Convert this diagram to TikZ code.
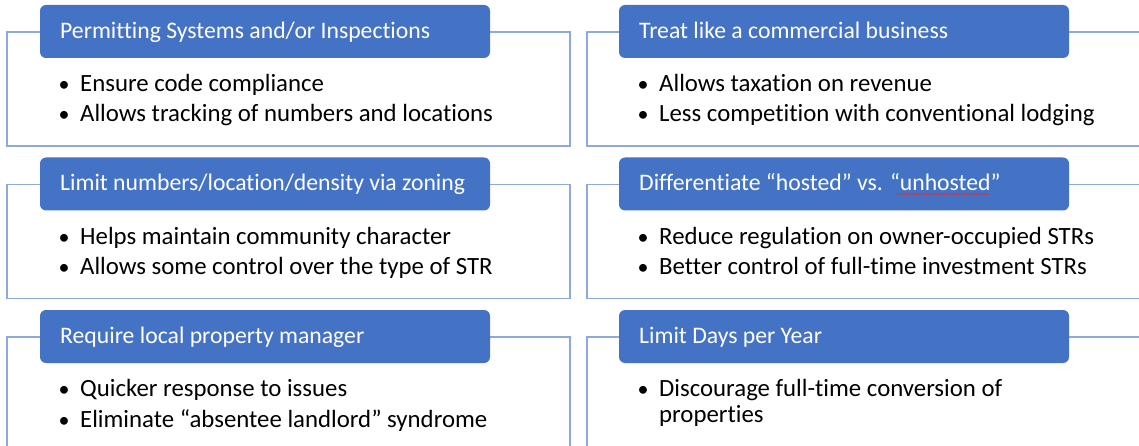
\documentclass[tikz,border=0pt]{standalone}
\usepackage{fontspec}
\setmainfont{Carlito}[Ligatures={NoCommon}]
\usetikzlibrary{decorations.pathmorphing}
\definecolor{hdrblue}{HTML}{4472C4}
\definecolor{edgeblue}{HTML}{8EA9DB}
\definecolor{spellred}{HTML}{E0303A}

\begin{document}
\begin{tikzpicture}[x=1pt,y=-1pt,
  panel/.style={draw=edgeblue, line width=1.2pt, minimum width=563pt,
    minimum height=114pt, anchor=north west, inner sep=0pt, outer sep=0pt},
  header/.style={fill=hdrblue, rounded corners=6pt, minimum width=450pt,
    minimum height=53pt, anchor=north west, inner sep=0pt, outer sep=0pt},
  htext/.style={text=white, font=\fontsize{23.7}{26}\selectfont,
    anchor=base west, inner sep=0pt},
  btext/.style={font=\fontsize{24.8}{26}\selectfont, anchor=base west,
    inner sep=0pt, align=left},
  dot/.style={font=\fontsize{22}{26}\selectfont, anchor=base, inner sep=0pt},
]
\clip (0,0) rectangle (1139,446);

% outlined panels
\node[panel] (p1) at (7,32) {};
\node[panel] (p2) at (587,32) {};
\node[panel] (p3) at (7,184.5) {};
\node[panel] (p4) at (587,184.5) {};
\node[panel] (p5) at (7,337) {};
\node[panel] (p6) at (587,337) {};

% headers over the panel tops
\node[header] (h1) at (40,5) {};
\node[header] (h2) at (619,5) {};
\node[header] (h3) at (40,157.5) {};
\node[header] (h4) at (619,157.5) {};
\node[header] (h5) at (40,310) {};
\node[header] (h6) at (619,310) {};

\node[htext] (t1) at (60,38.5) {Permitting Systems and/or Inspections};
\node[htext] (t2) at (639,38.5) {Treat like a commercial business};
\node[htext] (t3) at (60,191) {Limit numbers/location/density via zoning};
\node[htext] (t4) at (639,191) {Differentiate “hosted” vs. “unhosted”};
\node[htext] (t5) at (60,343.5) {Require local property manager};
\node[htext] (t6) at (639,343.5) {Limit Days per Year};

% spell-check underline
\draw[spellred, line width=0.6pt, decorate,
  decoration={snake, amplitude=0.7pt, segment length=2.5pt}]
  (897,194) -- (989,194);

% bullet lists
\node[dot] (d11) at (64,91.5) {•};
\node[btext] (b11) at (80,91.5) {Ensure code compliance};
\node[dot] (d12) at (64,122) {•};
\node[btext] (b12) at (80,122) {Allows tracking of numbers and locations};

\node[dot] (d21) at (643,91.5) {•};
\node[btext] (b21) at (659,91.5) {Allows taxation on revenue};
\node[dot] (d22) at (643,122) {•};
\node[btext] (b22) at (659,122) {Less competition with conventional lodging};

\node[dot] (d31) at (64,244) {•};
\node[btext] (b31) at (80,244) {Helps maintain community character};
\node[dot] (d32) at (64,274.5) {•};
\node[btext] (b32) at (80,274.5) {Allows some control over the type of STR};

\node[dot] (d41) at (643,244) {•};
\node[btext] (b41) at (659,244) {Reduce regulation on owner-occupied STRs};
\node[dot] (d42) at (643,274.5) {•};
\node[btext] (b42) at (659,274.5) {Better control of full-time investment STRs};

\node[dot] (d51) at (64,396.5) {•};
\node[btext] (b51) at (80,396.5) {Quicker response to issues};
\node[dot] (d52) at (64,427) {•};
\node[btext] (b52) at (80,427) {Eliminate “absentee landlord” syndrome};

\node[dot] (d61) at (643,396.5) {•};
\node[btext] (b61) at (659,396.5) {Discourage full-time conversion of};
\node[btext] (b62) at (659,422) {properties};
\end{tikzpicture}
\end{document}
